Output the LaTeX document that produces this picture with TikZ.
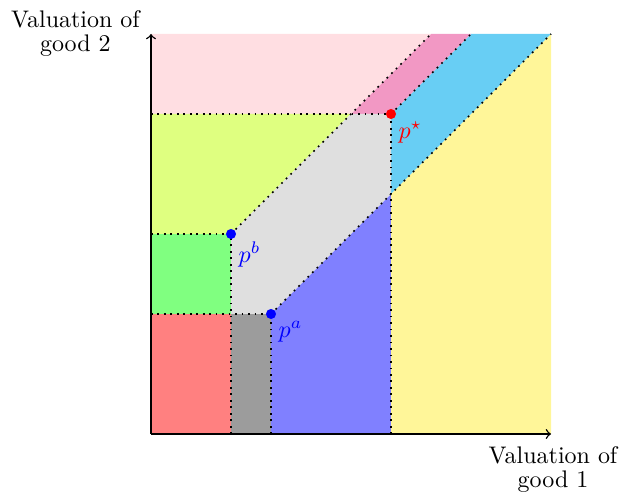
\documentclass[tikz,border=0pt]{standalone}
\definecolor{cyanb}{RGB}{104,206,244}
\definecolor{pinkd}{RGB}{242,152,196}
\definecolor{pinkl}{RGB}{255,222,226}
\definecolor{yel}{RGB}{255,246,153}
\begin{document}
\begin{tikzpicture}[x=0.586cm,y=0.586cm,
  guide/.style={line width=0.7pt,dotted},
  dot/.style={circle,fill,inner sep=0pt,minimum size=4.2pt},
  plab/.style={inner sep=3pt},
  axlab/.style={align=center},
  axis/.style={->,semithick}]
\useasboundingbox (-3.775,-1.45) rectangle (12.025,10.85);
\coordinate (pa) at (3,3);
\coordinate (pb) at (2,5);
\coordinate (ps) at (6,8);
% regions
\fill[red!50] (0,0) rectangle (2,3);
\fill[gray!78] (2,0) rectangle (3,3);
\fill[blue!50] (3,0) -- (6,0) -- (6,6) -- (3,3) -- cycle;
\fill[yel] (6,0) -- (10,0) -- (10,10) -- (6,6) -- cycle;
\fill[cyanb] (6,6) -- (10,10) -- (8,10) -- (6,8) -- cycle;
\fill[pinkd] (5,8) -- (6,8) -- (8,10) -- (7,10) -- cycle;
\fill[pinkl] (0,8) -- (5,8) -- (7,10) -- (0,10) -- cycle;
\fill[lime!50] (0,5) -- (2,5) -- (5,8) -- (0,8) -- cycle;
\fill[green!50] (0,3) rectangle (2,5);
\fill[gray!25] (2,3) -- (3,3) -- (6,6) -- (6,8) -- (5,8) -- (2,5) -- cycle;
% guides
\draw[guide] (0,8) -- (ps);
\draw[guide] (0,5) -- (pb);
\draw[guide] (0,3) -- (pa);
\draw[guide] (2,0) -- (pb);
\draw[guide] (3,0) -- (pa);
\draw[guide] (6,0) -- (ps);
\draw[guide] (pb) -- (7,10);
\draw[guide] (ps) -- (8,10);
\draw[guide] (pa) -- (10,10);
% axes
\coordinate (o) at (0,0);
\coordinate (xe) at (10,0);
\coordinate (ye) at (0,10);
\draw[axis] (o) -- (xe);
\draw[axis] (o) -- (ye);
\node[axlab] (ylab) at (-1.89,10.02) {Valuation of\\[-2pt]good 2};
\node[axlab] (xlab) at (10.05,-0.88) {Valuation of\\[-2pt]good 1};
% points
\node[dot,blue] (A) at (pa) {};
\node[dot,blue] (B) at (pb) {};
\node[dot,red] (S) at (ps) {};
\node[plab,blue,below right] (la) at (pa) {$p^a$};
\node[plab,blue,below right] (lb) at (pb) {$p^b$};
\node[plab,red,below right] (ls) at (ps) {$p^\star$};
\end{tikzpicture}
\end{document}
